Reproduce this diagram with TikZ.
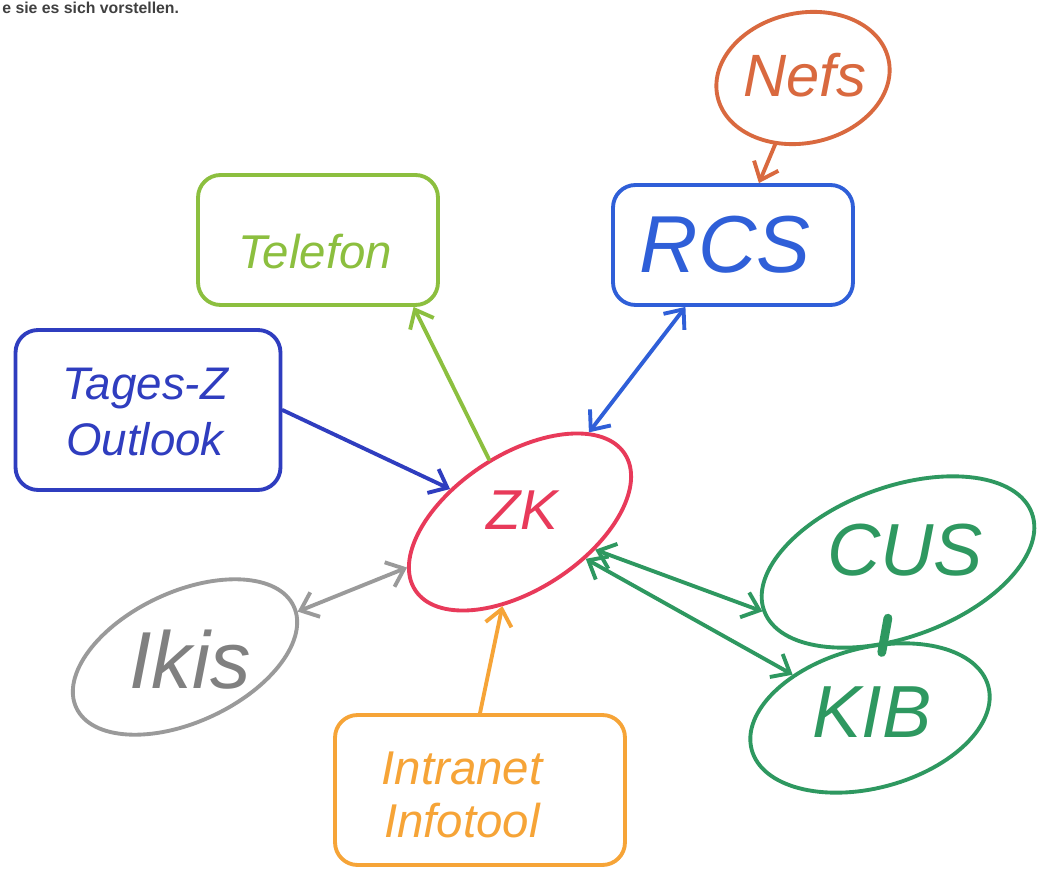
\documentclass[tikz,border=0pt]{standalone}
\usepackage{fontspec}
\setmainfont{Liberation Sans}
\usetikzlibrary{shapes.geometric,arrows.meta,calc}
\definecolor{cNefs}{HTML}{D9693F}
\definecolor{cRCS}{HTML}{2F5FD8}
\definecolor{cTages}{HTML}{2F3DBF}
\definecolor{cTel}{HTML}{8CBF3F}
\definecolor{cZK}{HTML}{E83A5A}
\definecolor{cIkis}{HTML}{9A9A9A}
\definecolor{cIntra}{HTML}{F6A437}
\definecolor{cGreen}{HTML}{2E9860}
\begin{document}
\begin{tikzpicture}[x=0.02cm,y=-0.02cm,
  pen/.style={line width=2.2pt, line cap=round, line join=round},
  oval/.style={pen, ellipse, inner sep=0pt},
  box/.style={pen, rectangle, rounded corners=0.45cm, inner sep=0pt},
  lbl/.style={font=#1\itshape, inner sep=0pt, align=center},
  onehead/.style={pen, -{Straight Barb[length=9pt,width=15pt]}},
  twohead/.style={pen, {Straight Barb[length=9pt,width=15pt]}-{Straight Barb[length=9pt,width=15pt]}}
]
\useasboundingbox (0,0) rectangle (1042,871);
\fill[white] (0,0) rectangle (1042,871);

% caption line at the top
\node[anchor=north west, inner sep=0pt, text=black!75, font=\fontsize{9}{10}\selectfont\bfseries] (cap) at (2,2) {e sie es sich vorstellen.};

% shapes
\node[oval, draw=cNefs, minimum width=3.5cm, minimum height=2.6cm, rotate=12] (nefs) at (803,78) {};
\node[lbl=\fontsize{34}{36}\selectfont, text=cNefs] (nefs-t) at (805,75) {Nefs};

\node[box, draw=cRCS, minimum width=4.8cm, minimum height=2.4cm] (rcs) at (733,245) {};
\node[lbl=\fontsize{46}{48}\selectfont, text=cRCS] (rcs-t) at (725,245) {RCS};

\node[box, draw=cTel, minimum width=4.8cm, minimum height=2.6cm] (tel) at (318,240) {};
\node[lbl=\fontsize{27}{30}\selectfont, text=cTel] (tel-t) at (315,252) {Telefon};

\node[box, draw=cTages, minimum width=5.3cm, minimum height=3.2cm] (tages) at (148,410) {};
\node[lbl=\fontsize{26}{32}\selectfont, text=cTages] (tages-t) at (145,412) {Tages-Z\\Outlook};

\node[oval, draw=cZK, minimum width=5cm, minimum height=2.7cm, rotate=33] (zk) at (520,522) {};
\node[lbl=\fontsize{32}{34}\selectfont, text=cZK] (zk-t) at (522,510) {ZK};

\node[oval, draw=cIkis, minimum width=4.8cm, minimum height=2.6cm, rotate=25] (ikis) at (185,657) {};
\node[lbl=\fontsize{46}{48}\selectfont, text=black!50] (ikis-t) at (190,660) {Ikis};

\node[box, draw=cIntra, minimum width=5.8cm, minimum height=3.0cm] (intra) at (480,790) {};
\node[lbl=\fontsize{27}{30}\selectfont, text=cIntra] (intra-t) at (462,795) {Intranet\\Infotool};

\node[oval, draw=cGreen, minimum width=5.7cm, minimum height=3.0cm, rotate=20] (cus) at (898,562) {};
\node[lbl=\fontsize{42}{44}\selectfont, text=cGreen] (cus-t) at (905,550) {CUS};

\node[oval, draw=cGreen, minimum width=4.9cm, minimum height=2.8cm, rotate=15] (kib) at (870,718) {};
\node[lbl=\fontsize{42}{44}\selectfont, text=cGreen] (kib-t) at (872,712) {KIB};

% connectors
\draw[onehead, draw=cNefs] (nefs) -- (rcs);
\draw[onehead, draw=cTel] (zk) -- (tel.-35);
\draw[onehead, draw=cTages] (tages.east) -- (zk);
\draw[twohead, draw=cRCS] (rcs) -- (zk);
\draw[twohead, draw=cIkis] (ikis) -- (zk);
\draw[onehead, draw=cIntra] (intra.north) -- (zk);
\draw[twohead, draw=cGreen] (zk) -- (cus.west);
\draw[twohead, draw=cGreen] (zk) -- (kib);
\draw[draw=cGreen, line width=5pt, line cap=round] ($(cus)!0.36!(kib)$) -- ($(cus)!0.58!(kib)$);
\end{tikzpicture}
\end{document}
